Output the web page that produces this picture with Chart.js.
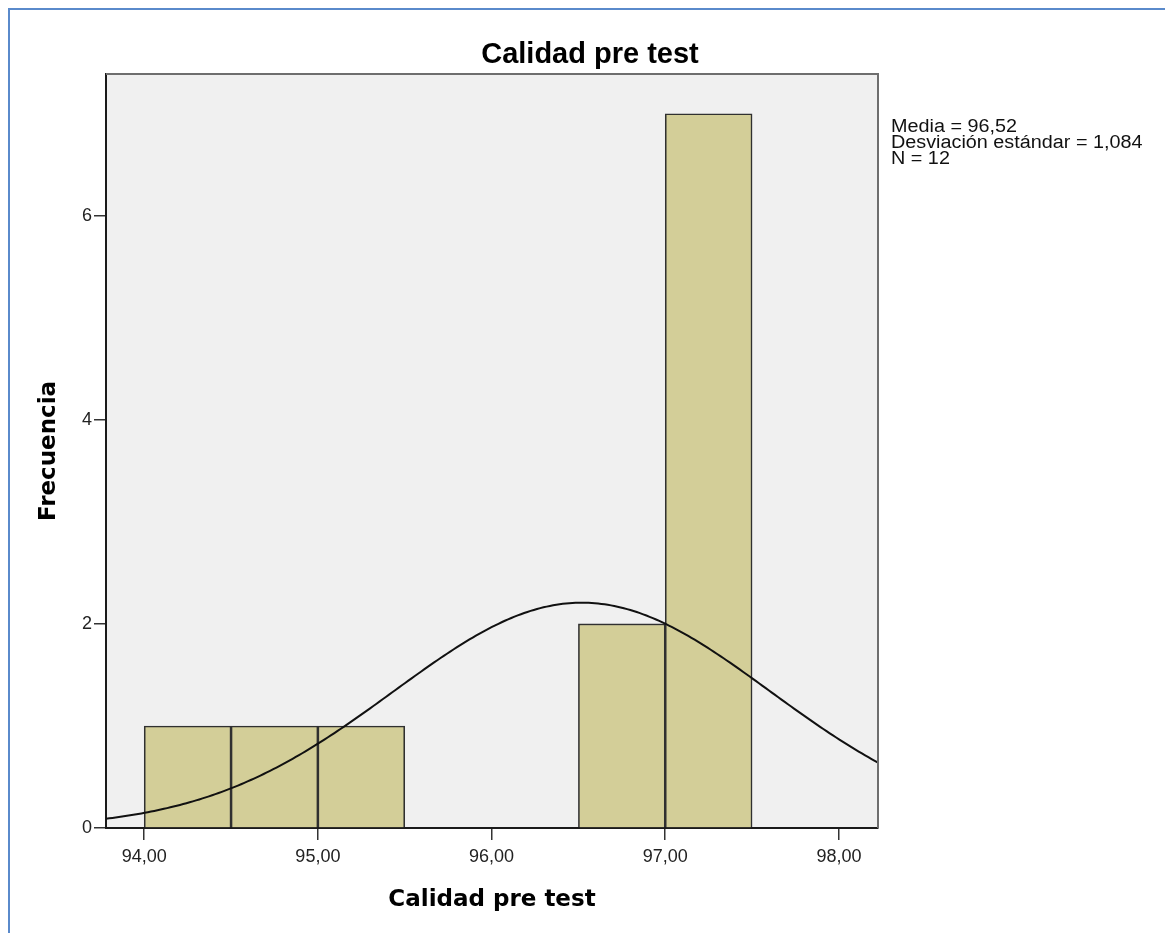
<!DOCTYPE html>
<html>
<head>
<meta charset="utf-8">
<title>Calidad pre test</title>
<script src="https://cdn.jsdelivr.net/npm/chart.js@4/dist/chart.umd.min.js"></script>
<style>
  html, body { margin: 0; padding: 0; background: #fff; overflow: hidden; }
  #wrap { position: relative; width: 1165px; height: 933px; }
  #frame { position: absolute; left: 8px; top: 8px; right: 0; bottom: 0;
           border-top: 2px solid #5a8acb; border-left: 2px solid #5a8acb; pointer-events: none; }
  canvas { position: absolute; left: 0; top: 0; }
</style>
</head>
<body>
<div id="wrap">
  <canvas id="hist" width="1165" height="933"></canvas>
  <div id="frame"></div>
</div>
<script>
// Histogram: lower bin edges and frequencies (bin width 0,5)
const chartTitle = 'Calidad pre test';
const xAxisTitle = 'Calidad pre test';
const yAxisTitle = 'Frecuencia';
const binStarts = [94.0, 94.5, 95.0, 95.5, 96.0, 96.5, 97.0];
const binCounts = [1, 1, 1, 0, 0, 2, 7];
const binWidth = 0.5;

// Axis ranges and tick values
const xRange = [93.78, 98.225];
const yRange = [0, 7.39];
const xTicks = [94, 95, 96, 97, 98];
const yTicks = [0, 2, 4, 6];

// Descriptive statistics shown beside the plot
const media = 96.52;
const desviacion = 1.084;
const nCasos = 12;
const statsLines = ['Media = 96,52', 'Desviación estándar = 1,084', 'N = 12'];

// Bars placed at bin centres; empty bins are not drawn
const barData = binStarts.map((s, i) => ({ x: s + binWidth / 2, y: binCounts[i] > 0 ? binCounts[i] : null }));

// Normal curve scaled to frequencies: N * width * pdf(x)
const curveData = [];
const steps = 240;
for (let i = 0; i <= steps; i++) {
  const x = xRange[0] + (xRange[1] - xRange[0]) * i / steps;
  const z = (x - media) / desviacion;
  const y = nCasos * binWidth * Math.exp(-0.5 * z * z) / (desviacion * Math.sqrt(2 * Math.PI));
  curveData.push({ x, y });
}

const fmt = v => v.toFixed(2).replace('.', ',');

const plotFrame = {
  id: 'plotFrame',
  beforeDraw(chart) {
    const { ctx, chartArea: a } = chart;
    ctx.save();
    ctx.fillStyle = '#f0f0f0';
    ctx.fillRect(a.left, a.top, a.right - a.left, a.bottom - a.top);
    ctx.restore();
  },
  afterDraw(chart) {
    const { ctx, chartArea: a } = chart;
    ctx.save();
    // upper and right frame of the plot area
    ctx.strokeStyle = '#6e6e6e';
    ctx.lineWidth = 2;
    ctx.beginPath();
    ctx.moveTo(a.left, a.top);
    ctx.lineTo(a.right, a.top);
    ctx.lineTo(a.right, a.bottom);
    ctx.stroke();
    // main title, centred over the whole figure
    ctx.fillStyle = '#000';
    ctx.font = 'bold 29px "Liberation Sans", Arial, sans-serif';
    ctx.textAlign = 'center';
    ctx.textBaseline = 'middle';
    ctx.fillText(chartTitle, 590, a.top - 19.5);
    ctx.restore();
    // statistics block (slightly widened lettering)
    ctx.save();
    ctx.translate(a.right + 13, a.top + 57.5);
    ctx.scale(1.1, 1);
    ctx.fillStyle = '#111';
    ctx.font = '18px "Liberation Sans", Arial, sans-serif';
    ctx.textBaseline = 'alphabetic';
    ctx.textAlign = 'left';
    statsLines.forEach((t, i) => ctx.fillText(t, 0, i * 16));
    ctx.restore();
  }
};

new Chart(document.getElementById('hist'), {
  type: 'bar',
  data: {
    datasets: [
      {
        type: 'line',
        data: curveData,
        borderColor: '#111',
        borderWidth: 2,
        pointRadius: 0,
        fill: false,
        tension: 0,
        order: 0
      },
      {
        type: 'bar',
        data: barData,
        backgroundColor: '#d3ce98',
        borderColor: '#303030',
        borderWidth: 1.6,
        borderSkipped: 'bottom',
        barPercentage: 1,
        categoryPercentage: 1,
        order: 1
      }
    ]
  },
  options: {
    responsive: false,
    animation: false,
    events: [],
    layout: { padding: { left: 0, top: 74, right: 287, bottom: 0 } },
    plugins: {
      legend: { display: false },
      tooltip: { enabled: false },
      title: { display: false }
    },
    scales: {
      x: {
        type: 'linear',
        offset: false,
        min: xRange[0],
        max: xRange[1],
        afterFit: s => { s.height = 105; },
        afterBuildTicks: s => { s.ticks = xTicks.map(v => ({ value: v })); },
        ticks: {
          includeBounds: false,
          color: '#222',
          padding: 6,
          maxRotation: 0,
          font: { family: '"Liberation Sans", Arial, sans-serif', size: 18 },
          callback: v => fmt(v)
        },
        grid: { display: true, offset: false, drawOnChartArea: false, drawTicks: true, tickLength: 12, color: '#333', lineWidth: 1.5 },
        border: { display: true, color: '#1a1a1a', width: 2 },
        title: {
          display: true,
          text: xAxisTitle,
          color: '#000',
          font: { family: '"DejaVu Sans", Verdana, sans-serif', size: 23, weight: 'bold', lineHeight: 1.2 },
          padding: { top: 0, bottom: 19 }
        }
      },
      y: {
        min: yRange[0],
        max: yRange[1],
        afterFit: s => { s.width = 106; },
        afterBuildTicks: s => { s.ticks = yTicks.map(v => ({ value: v })); },
        ticks: {
          includeBounds: false,
          color: '#222',
          padding: 2,
          font: { family: '"Liberation Sans", Arial, sans-serif', size: 18 },
          callback: v => String(v)
        },
        grid: { display: true, offset: false, drawOnChartArea: false, drawTicks: true, tickLength: 12, color: '#333', lineWidth: 1.5 },
        border: { display: true, color: '#1a1a1a', width: 2 },
        title: {
          display: true,
          text: yAxisTitle,
          color: '#000',
          font: { family: '"DejaVu Sans", Verdana, sans-serif', size: 23, weight: 'bold', lineHeight: 1.2 },
          padding: { top: 35, bottom: 0 }
        }
      }
    }
  },
  plugins: [plotFrame]
});
</script>
</body>
</html>
